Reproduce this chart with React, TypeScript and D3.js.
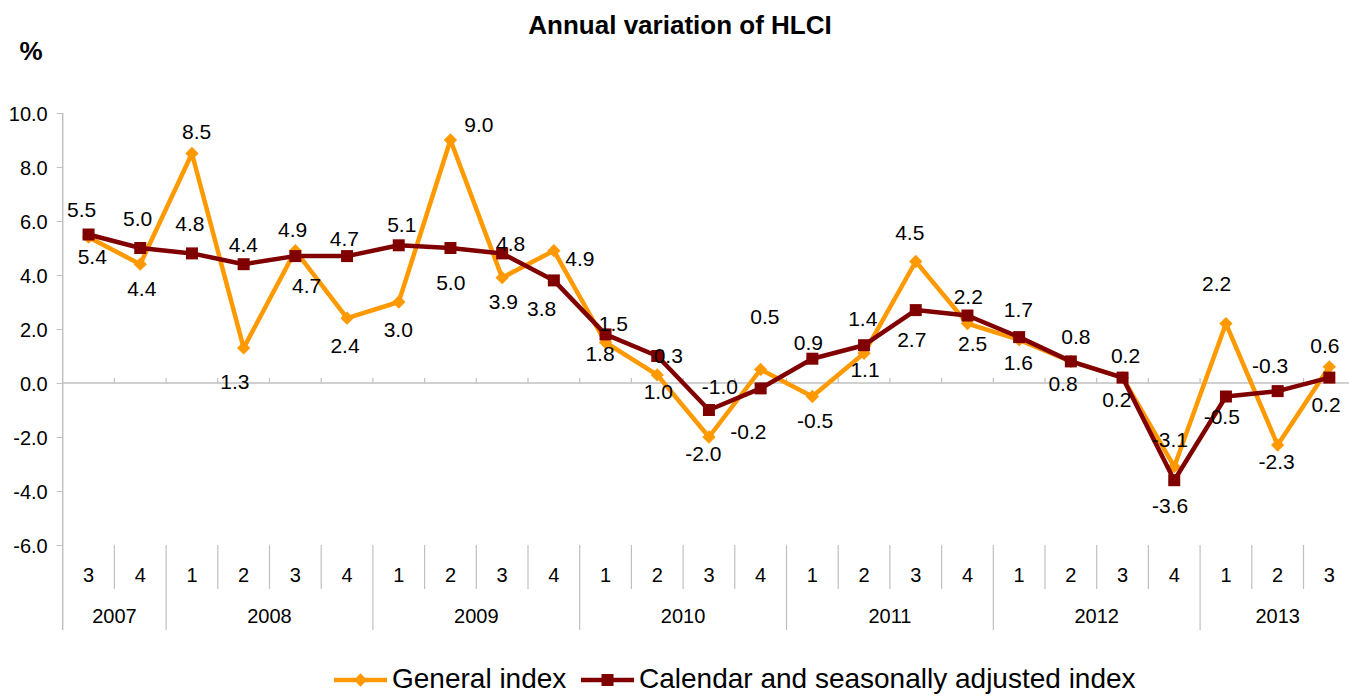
import React, {useEffect, useRef} from "react";
import * as d3 from "d3";

// quarters along the x axis, grouped by year
const quarterLabels = ["3","4","1","2","3","4","1","2","3","4","1","2","3","4","1","2","3","4","1","2","3","4","1","2","3"];
const yearLabels = ["2007","2008","2009","2010","2011","2012","2013"];
const quartersPerYear = [2,4,4,4,4,4,3];

const generalIndex = [5.4,4.4,8.5,1.3,4.9,2.4,3.0,9.0,3.9,4.9,1.5,0.3,-2.0,0.5,-0.5,1.1,4.5,2.2,1.6,0.8,0.2,-3.1,2.2,-2.3,0.6];
const adjustedIndex = [5.5,5.0,4.8,4.4,4.7,4.7,5.1,5.0,4.8,3.8,1.8,1.0,-1.0,-0.2,0.9,1.4,2.7,2.5,1.7,0.8,0.2,-3.6,-0.5,-0.3,0.2];

const yTicks = [-6,-4,-2,0,2,4,6,8,10];

const seriesNames = ["General index","Calendar and seasonally adjusted index"];

// label nudges (dx, dy) from each marker, as placed in the original
const generalNudge = [[3.7,19.5],[1.5,24],[4.7,-22],[-8.7,34],[-2.7,-21.4],[-2,27],[-0.5,28],[28.5,-15],[1.2,24],[26,7.6],
    [7.8,-19],[11,-19],[-5.6,17],[4.3,-53],[2.7,24],[1,16.7],[-6,-29],[0.8,-27],[-0.8,23],[5,-24.7],
    [3,-21.6],[-4.3,-26.7],[-9.3,-39.6],[-1,16.6],[-4.4,-20.8]];
const adjustedNudge = [[-6.9,-24.5],[-2.6,-29.7],[-2,-30],[-0.3,-19.2],[11.3,30],[-2.7,-17.8],[3,-20.3],[0.3,34.3],[8.5,-9.4],[-12.2,28],
    [-5.5,19],[1,35.7],[11,-23.3],[-12.3,43.3],[-4,-16],[-1.3,-27],[-4,30],[5.2,27.8],[-0.8,-27],[-7.8,22],
    [-5.8,22.4],[-4.2,25.8],[-4.2,20.2],[-7.6,-25],[-3.3,27.4]];

const W = 1349, H = 695;
const FONT = "'Liberation Sans', Arial, sans-serif";
const ORANGE = "#ff9900", DARKRED = "#800000", AXIS = "#c0c0c0";

// plain hyphen for negatives, like the original
const fmt = d3.formatLocale({decimal: ".", thousands: ",", grouping: [3], currency: ["", ""], minus: "-"}).format(".1f");

const App = () => {
    const ref = useRef(null);

    useEffect(() => {
        const svg = d3.select(ref.current);
        svg.selectAll("*").remove();

        const left = 62.7, band = 51.7, top = 113, bottom = 545;
        const x = d3.scaleBand().domain(d3.range(quarterLabels.length))
            .range([left, left + band * quarterLabels.length]).padding(0);
        const y = d3.scaleLinear().domain([-6, 10]).range([bottom, top]);
        const cx = i => x(i) + x.bandwidth() / 2;

        // title and unit
        svg.append("text").attr("x", 680).attr("y", 34).attr("text-anchor", "middle")
            .attr("font-family", FONT).attr("font-weight", "bold").attr("font-size", 26)
            .text("Annual variation of HLCI");
        svg.append("text").attr("x", 31).attr("y", 60).attr("text-anchor", "middle")
            .attr("font-family", FONT).attr("font-weight", "bold").attr("font-size", 26)
            .text("%");

        // y axis
        const yAxis = svg.append("g").attr("transform", `translate(${left},0)`)
            .call(d3.axisLeft(y).tickValues(yTicks).tickFormat(fmt).tickSize(6).tickPadding(9));
        yAxis.select(".domain").remove();
        yAxis.selectAll(".tick line").attr("stroke", AXIS);
        yAxis.selectAll(".tick text").attr("font-family", FONT).attr("font-size", 20).attr("fill", "#000")
            .attr("dy", "0.35em");
        svg.append("line").attr("x1", left).attr("x2", left).attr("y1", top).attr("y2", 630)
            .attr("stroke", AXIS).attr("stroke-width", 1.5);

        // zero line with small ticks at quarter boundaries
        svg.append("line").attr("x1", left).attr("x2", W).attr("y1", y(0)).attr("y2", y(0))
            .attr("stroke", AXIS).attr("stroke-width", 1.5);
        d3.range(1, quarterLabels.length + 1).forEach(i => {
            svg.append("line").attr("x1", x(0) + band * i).attr("x2", x(0) + band * i)
                .attr("y1", y(0) - 5).attr("y2", y(0)).attr("stroke", AXIS).attr("stroke-width", 1.2);
        });

        // category axis: quarters then years
        const yearStarts = d3.cumsum([0, ...quartersPerYear]);
        d3.range(1, quarterLabels.length + 1).forEach(i => {
            const isYear = yearStarts.includes(i);
            svg.append("line").attr("x1", x(0) + band * i).attr("x2", x(0) + band * i)
                .attr("y1", bottom).attr("y2", isYear ? 630 : 589)
                .attr("stroke", AXIS).attr("stroke-width", 1.2);
        });
        svg.append("g").selectAll("text").data(quarterLabels).join("text")
            .attr("x", (d, i) => cx(i)).attr("y", 575).attr("dy", "0.35em")
            .attr("text-anchor", "middle").attr("font-family", FONT).attr("font-size", 20)
            .text(d => d);
        svg.append("g").selectAll("text").data(yearLabels).join("text")
            .attr("x", (d, i) => x(0) + band * (yearStarts[i] + quartersPerYear[i] / 2))
            .attr("y", 616).attr("dy", "0.35em")
            .attr("text-anchor", "middle").attr("font-family", FONT).attr("font-size", 20)
            .text(d => d);

        const line = d3.line().x((d, i) => cx(i)).y(d => y(d));
        const diamond = d3.symbol(d3.symbolSquare, 88);
        const square = d3.symbol(d3.symbolSquare, 144);

        // general index
        svg.append("path").datum(generalIndex).attr("d", line).attr("fill", "none")
            .attr("stroke", ORANGE).attr("stroke-width", 4.5).attr("stroke-linejoin", "round");
        svg.append("g").selectAll("path").data(generalIndex).join("path")
            .attr("d", diamond).attr("fill", ORANGE)
            .attr("transform", (d, i) => `translate(${cx(i)},${y(d)}) rotate(45)`);

        // calendar and seasonally adjusted index
        svg.append("path").datum(adjustedIndex).attr("d", line).attr("fill", "none")
            .attr("stroke", DARKRED).attr("stroke-width", 4.5).attr("stroke-linejoin", "round");
        svg.append("g").selectAll("path").data(adjustedIndex).join("path")
            .attr("d", square).attr("fill", DARKRED)
            .attr("transform", (d, i) => `translate(${cx(i)},${y(d)})`);

        // data labels
        const labels = (values, nudge) => svg.append("g").selectAll("text").data(values).join("text")
            .attr("x", (d, i) => cx(i) + nudge[i][0]).attr("y", (d, i) => y(d) + nudge[i][1])
            .attr("dy", "0.35em").attr("text-anchor", "middle")
            .attr("font-family", FONT).attr("font-size", 21).attr("fill", "#000")
            .text(d => fmt(d));
        labels(generalIndex, generalNudge);
        labels(adjustedIndex, adjustedNudge);

        // legend
        const legend = [
            {name: seriesNames[0], color: ORANGE, sym: diamond, rot: 45, x0: 334},
            {name: seriesNames[1], color: DARKRED, sym: square, rot: 0, x0: 581},
        ];
        legend.forEach(l => {
            const ly = 680;
            svg.append("line").attr("x1", l.x0).attr("x2", l.x0 + 53).attr("y1", ly).attr("y2", ly)
                .attr("stroke", l.color).attr("stroke-width", 4.5);
            svg.append("path").attr("d", l.sym).attr("fill", l.color)
                .attr("transform", `translate(${l.x0 + 26.5},${ly}) rotate(${l.rot})`);
            svg.append("text").attr("x", l.x0 + 58).attr("y", 688)
                .attr("font-family", FONT).attr("font-size", 28).text(l.name);
        });
    }, []);

    return (
        <div style={{position: "absolute", left: 0, top: 0}}>
            <svg ref={ref} width={W} height={H} style={{display: "block", background: "#fff"}}></svg>
        </div>
    );
};

export default App;
